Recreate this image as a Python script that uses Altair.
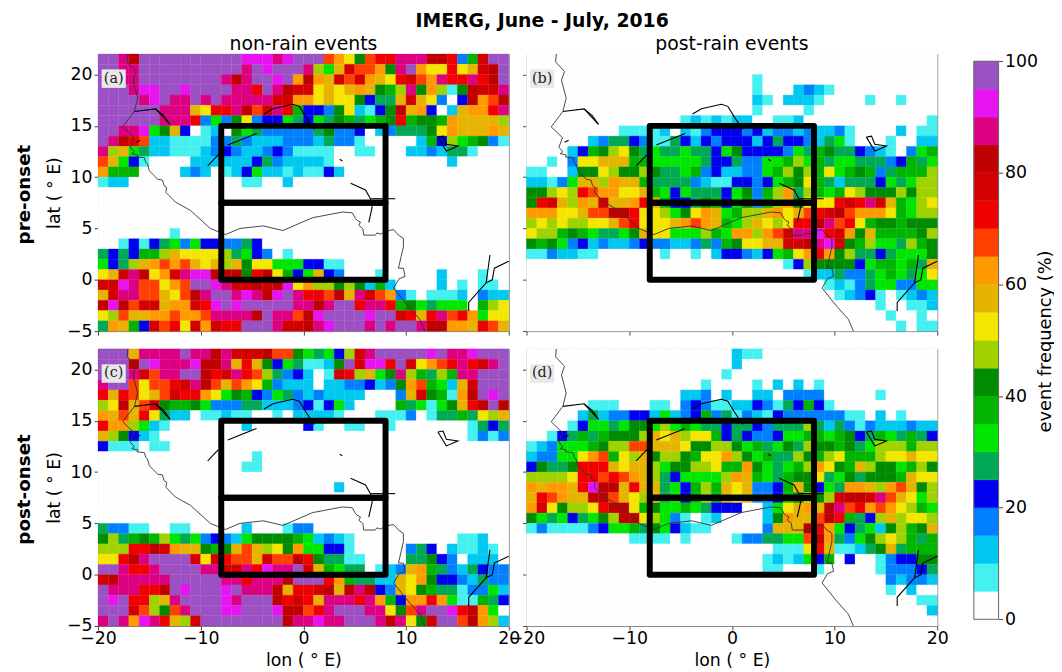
import altair as alt
import pandas as pd

FONT = "DejaVu Sans"
Z = "0" * 20
LEVEL_COLORS = ["#fefefe", "#45f0f0", "#00c8f0", "#0080ff", "#0000f0", "#00aa55", "#00e600", "#00b400",
                "#008c00", "#a0d200", "#f5e600", "#e6b400", "#ff9b00", "#ff4000", "#f00000", "#d20000",
                "#be0000", "#dc0082", "#e614f0", "#9b50c3"]
LEVEL_KEYS = "0123456789abcdefghij"
EDGES = list(range(0, 101, 5))

# rows run from lat 21..22 (first) to lat -5..-4 (last); each char is one 5 % frequency class
PANEL_A = [
    "jjhgjjjjjjjjjjiiihij" "jjdca8deehhhgge37fjj",
    "jjhhjjjjjjjjjjhjijjj" "h96bfddc8hjcaaeabfgj",
    "jjhhjjjjjjjjhghjjijc" "gcbfdfcbaefdcheehegj",
    "jjjhiijjijjjjhhejhgf" "fababcb879h8c918gffh",
    "jjjjhijhhjhjhhhhhffc" "cabaa8455bfba304gcdg",
    "jjjjjjhhhbaeehgdfhe7" "4438a2148gbc402bcceh",
    "jjjjjjhhhe3638a34465" "465875678e7887cbbbb9",
    "jjhhi68b401208653333" "3583340235558acbbbcb",
    "jhged221111335322233" "32533100000274967831",
    "h9b65221112343223431" "11100110002232551000",
    "db641000022222245322" "22100000000000200000",
    "c7770000232012462212" "11420000000000000000",
    "12200000000000110020" + Z,
    Z + Z, Z + Z, Z + Z, Z + Z,
    "00000001000000000000" + Z,
    "00141456364433540000" + Z,
    "5454779baaaa95643010" + Z,
    "6459bcdcdbab9b8aa666" "44110000000000000000",
    "abfhgacfhiiggg8ega74" "6b430001000002000100",
    "ffihddacdjjihffgfgia" "c9989827200002010110",
    "bfhhddbadghjjhihgijh" "eedgbhfdc31011120322",
    "gigdffbccfeijijjjjjh" "hghjjehhe7865666079a",
    "a9dbbccdccdhhhhgjhhd" "gijjjjijjfebehdec6aa",
    "5cb74fdeafcfeejjjhff" "ghijjjhjhjjhggccbedb",
]
PANEL_B = [
    Z + Z, Z + Z,
    Z + "00100000000000000000",
    Z + "00100023210000000000",
    Z + "00210222100001001000",
    Z + "00100001000000000000",
    "00000000000000012121" "22001120000000000001",
    "00000000011112021344" "43423323223100002011",
    "00000023554311542434" "44245443256100010022",
    "000024789a8565565546" "84444365785543210367",
    "00103aabbb7766666544" "53366796756655534756",
    "1100288a988985567342" "233679897a6787357779",
    "22136bb9cbb755553211" "4434678a752555465699",
    "889a9edccaab76465554" "68379c59767a98889899",
    "8efb9cbfbbceb7445874" "68379c8aaaefehfb769a",
    "cccaabddggeaa968acb6" "799bcabdefgdccca7699",
    "9a9a99aabdeaaabcdcb7" "69ba9aeeghdea7887888",
    "a9978765568baa666976" "cc9cdfhhiefc8b777789",
    "87863423223433223537" "8aabbffghif879665978",
    "11322110000001001024" "432467acec8955456668",
    Z + "0000014988884677675b",
    Z + "0000000122533567656a",
    Z + "00000000012135663366",
    Z + "00000000001234101232",
    Z + "00000000000000100112",
    Z + "00000000000000010010",
    Z + "00000000000000001011",
]
PANEL_C = [
    "jjjbhhhhjhhghfffgdd8" "65649fhjjjjjijhhijjj",
    "jjjgjihhhigghbeb8465" "1128jfiiejfacdehefhj",
    "jjjhfdhhjjgefhed9534" "201fe9b68h97597hhjjj",
    "hjjdaddefhgdbdca7322" "2022334238cd762bfjjj",
    "ebedabdfeeca68743653" "2322220003bf871cgjij",
    "9agbdf87786333552223" "414620000756168begjg",
    "cbdbea52201121100102" "22210001113015575a9b",
    "ecc96210000000200000" "41001100100000001545",
    "b9842100000000000000" "00000000000000001313",
    "41110110000000000000" + Z,
    "00000000000000010000" + Z,
    "00000000000000110000" + Z,
    Z + Z,
    Z + "00020000000000000000",
    Z + Z, Z + Z, Z + Z,
    "53311001100000200013" "30000000000000000000",
    "89578796563432688887" "62321000000000011200",
    "999eegfcbb878bdb9a8c" "66441000003540211210",
    "aaeghjjjjfafeddbfddg" "e8551100005584302220",
    "jjheehjjjjhhffheihhj" "fb76550123bc75325433",
    "fghhhhhjjjjjhhehhhgj" "jjec75522bac84432533",
    "jhhheegjijjjijhhhgbe" "efgbghg43ba875513362",
    "jijee9bhjjjjihjjjgef" "ebhhhehc74ccec611754",
    "jjjfd98dhjjjiijjjigg" "dehjjjhha8dhjjiegc60",
    "hjhciheb9fjjjjjjjjgh" "hihhjjjhgha8fjjdgc92",
]
PANEL_D = [
    Z + "21100000000000000000",
    Z + "20000000000000000000",
    "00000000000000000001" + Z,
    "00000000000000000100" "00102020100000000000",
    "00000000000000022302" "00220333300000100000",
    "00000011100011034311" "22431547410000000000",
    "00000252334426234735" "13214333333110201000",
    "00001466568869676554" "55435559525313222322",
    "001457578889bab9aa74" "54334667767845765754",
    "1236667899ddbbba8899" "86756859887856999799",
    "23366acd7a9b89987aac" "9867559879a7779aabaa",
    "48558eeebabb968899a7" "7c865679ca87b9886798",
    "9999aeededcb95466669" "cb765788a56858887baa",
    "cbccbeiggbebb564797b" "ab3347b8465ccb9cdb89",
    "bedcbbggdba9b564797b" "ab33478989fggfhdba69",
    "cfa899aegga786676544" "40026abcbghdecdca976",
    "865645689gga96310120" "00028cbbdge7549b9aa9",
    "13111134667586421100" "0003bbbgec645628978b",
    "00000000001111010000" "1335566dgc53689a9757",
    Z + "0000111aeb11258b5777",
    Z + "00012126470400134488",
    Z + "00011000100000133345",
    Z + "00000000000000032332",
    Z + "00000000000000010200",
    Z + "00000000000000000011",
    Z + "00000000000000000002",
    Z + Z,
]

COAST_LON = [-17.1, -17.17, -16.3, -16.6, -16.14, -16.46, -17.6, -16.5, -16.85, -16.46, -16.72, -16.14, -16.2, -15.5,
             -15.34, -15.18, -15.0, -14.53, -14.2, -13.73, -13.57, -13.31, -13.4, -12.45, -11.0, -9.07, -7.6, -6.17,
             -3.9, -2.0, 0.9, 3.8, 4.76, 5.08, 5.24, 5.56, 5.4, 5.79, 5.88, 7.0, 7.17, 7.49, 7.97, 8.46, 8.78, 9.26,
             9.74, 9.74, 9.52, 9.26, 9.74, 9.9, 9.32, 8.78, 10.2, 11.35, 11.83]
COAST_LAT = [22.0, 21.23, 20.3, 19.46, 17.7, 16.4, 14.9, 13.85, 12.9, 12.48, 12.29, 12.16, 11.97, 11.9,
             11.42, 11.26, 10.62, 10.14, 9.8, 9.72, 9.17, 9.0, 8.53, 7.56, 6.76, 5.0, 4.4, 5.0,
             5.25, 4.8, 6.05, 6.6, 6.53, 5.95, 5.79, 5.63, 5.31, 4.99, 4.35, 4.35, 4.57, 4.44, 4.67, 4.83, 4.89, 4.35,
             4.03, 3.22, 2.26, 1.13, 1.13, 0.33, 0.1, -0.8, -2.57, -3.85, -5.0]
BORDERS = [
    ([-16.46, -14.4, -13.0], [16.4, 16.65, 15.15]),
    ([-14.4, -13.6, -13.0], [16.65, 16.0, 15.15]),
    ([-16.3, -15.9], [13.4, 13.6]),
    ([-9.32, -8.3], [11.1, 12.16]),
    ([-7.36, -4.56], [13.13, 14.25]),
    ([-3.83, -2.96, -1.03, -0.39, 0.26, 1.06], [16.15, 16.66, 17.1, 16.9, 15.83, 14.64]),
    ([3.54, 3.8], [11.74, 11.58]),
    ([4.6, 6.05, 6.53, 6.7, 6.37], [9.4, 8.75, 7.9, 7.1, 5.6]),
    ([6.6, 8.94], [7.9, 7.9]),
    ([13.1, 13.6, 13.92, 15.05, 13.92, 13.1], [13.9, 14.0, 13.2, 13.03, 12.55, 13.9]),
    ([18.17, 17.8, 16.1, 16.1], [2.42, -0.3, -2.2, -3.05]),
    ([20.0, 18.6, 18.4, 17.8], [1.8, 1.13, 0.0, -0.3]),
]
BOX_LON = [-8, 8]
BOX_LAT = [[7.5, 15], [0, 7.5]]
BADGE_LON = [-19.65, -17.3]
BADGE_LAT = [18.7, 20.5]
X_TICKS = [-20, -10, 0, 10, 20]
Y_TICKS = [-5, 0, 5, 10, 15, 20]
CB_TICKS = [0, 20, 40, 60, 80, 100]

for p in (PANEL_A, PANEL_B, PANEL_C, PANEL_D):
    assert len(p) == 27 and all(len(r) == 40 for r in p), [len(r) for r in p]

XS = alt.Scale(domain=[-20, 20], nice=False, zero=False)
YS = alt.Scale(domain=[-5, 22], nice=False, zero=False)
CS = alt.Scale(type="threshold", domain=EDGES[1:-1], range=LEVEL_COLORS)


def cells(panel):
    out = []
    for r, row in enumerate(panel):
        for c, ch in enumerate(row):
            k = LEVEL_KEYS.index(ch)
            out.append(dict(lon=-20 + c, lon2=-19 + c, lat=21 - r, lat2=22 - r, v=EDGES[k] + 2.5))
    return pd.DataFrame(out)


coast = pd.DataFrame(dict(lon=COAST_LON, lat=COAST_LAT, i=range(len(COAST_LON))))
bord = pd.DataFrame([dict(lon=a, lat=b, i=i, seg=s) for s, (xs, ys) in enumerate(BORDERS)
                     for i, (a, b) in enumerate(zip(xs, ys))])
boxes = pd.DataFrame([dict(x=BOX_LON[0], x2=BOX_LON[1], y=a, y2=b) for a, b in BOX_LAT])
badge_df = pd.DataFrame(dict(x=[BADGE_LON[0]], x2=[BADGE_LON[1]], y=[BADGE_LAT[0]], y2=[BADGE_LAT[1]]))


def panel(data, tag, left, bottom, title=None, rowlabel=None, rowy=142):
    xax = alt.Axis(values=X_TICKS, labels=bottom, title="lon ( ° E)" if bottom else None, grid=False, domain=False,
                   tickSize=4, tickColor="#444", labelFontSize=17.5, titleFontSize=17.5, labelFont=FONT,
                   titleFont=FONT, titleFontWeight="normal", titlePadding=4, labelPadding=0, labelOverlap=False,
                   labelFlush=False)
    yax = alt.Axis(values=Y_TICKS, labels=left, title="lat ( ° E)" if left else None, grid=False, domain=False,
                   tickSize=4, tickColor="#444", labelFontSize=17.5, titleFontSize=17.5, labelFont=FONT,
                   titleFont=FONT, titleFontWeight="normal", titlePadding=3, labelPadding=2)
    heat = alt.Chart(cells(data)).mark_rect(strokeWidth=0.3).encode(
        x=alt.X("lon:Q", scale=XS, axis=xax), x2="lon2:Q",
        y=alt.Y("lat:Q", scale=YS, axis=yax), y2="lat2:Q",
        color=alt.Color("v:Q", scale=CS, legend=None),
        stroke=alt.Color("v:Q", scale=CS, legend=None),
    )
    line = alt.Chart(coast).mark_line(color="#333333", strokeWidth=0.9).encode(
        x=alt.X("lon:Q", scale=XS), y=alt.Y("lat:Q", scale=YS), order="i:O")
    bl = alt.Chart(bord).mark_line(color="#000000", strokeWidth=1.1).encode(
        x=alt.X("lon:Q", scale=XS), y=alt.Y("lat:Q", scale=YS), detail="seg:N", order="i:O")
    box = alt.Chart(boxes).mark_rect(filled=False, stroke="black", strokeWidth=6, strokeJoin="round").encode(
        x=alt.X("x:Q", scale=XS), x2="x2:Q", y=alt.Y("y:Q", scale=YS), y2="y2:Q")
    bg = alt.Chart(badge_df).mark_rect(fill="#e8e8e8").encode(
        x=alt.X("x:Q", scale=XS), x2="x2:Q", y=alt.Y("y:Q", scale=YS), y2="y2:Q")
    lab = alt.Chart(pd.DataFrame(dict(t=[tag]))).mark_text(font="DejaVu Serif", fontSize=14.5, color="#222222").encode(
        text="t:N", x=alt.X("lx:Q", scale=XS), y=alt.Y("ly:Q", scale=YS)
    ).transform_calculate(lx=str(sum(BADGE_LON) / 2), ly=str(sum(BADGE_LAT) / 2))
    layers = [heat, line, bl, box, bg, lab]
    if rowlabel:
        layers.append(alt.Chart(pd.DataFrame(dict(t=[rowlabel]))).mark_text(
            font=FONT, fontSize=18.5, fontWeight="bold", angle=270, color="black").encode(
            text="t:N", x=alt.value(-75), y=alt.value(rowy)))
    ch = alt.layer(*layers).properties(width=415, height=280)
    if title:
        ch = ch.properties(title=alt.TitleParams(title, fontSize=19, font=FONT, fontWeight="normal", offset=-2))
    return ch


left = alt.concat(
    panel(PANEL_A, "(a)", True, False, "non-rain events", "pre-onset"),
    panel(PANEL_B, "(b)", False, False, "post-rain events"),
    panel(PANEL_C, "(c)", True, True, None, "post-onset"),
    panel(PANEL_D, "(d)", False, True),
    columns=2, spacing=18, bounds="flush",
)

cb = pd.DataFrame(dict(a=EDGES[:-1], b=EDGES[1:], k=[e + 2.5 for e in EDGES[:-1]]))
CB_SCALE = alt.Scale(domain=[-1.2, 101.3], nice=False, zero=False)
cbar_rect = alt.Chart(cb).mark_rect(strokeWidth=0.4).encode(
    y=alt.Y("a:Q", scale=CB_SCALE,
            axis=alt.Axis(values=CB_TICKS, orient="right", title="event frequency (%)", grid=False, domain=False,
                          tickSize=4, tickColor="#444", labelFontSize=17.5, titleFontSize=18, labelFont=FONT,
                          titleFont=FONT, titleFontWeight="normal", titleAngle=270, titleX=56, titleY=290,
                          labelPadding=2, labelFlush=False)),
    y2="b:Q",
    color=alt.Color("k:Q", scale=CS, legend=None),
    stroke=alt.Color("k:Q", scale=CS, legend=None),
)
cbar_frame = alt.Chart(pd.DataFrame(dict(a=[EDGES[0]], b=[EDGES[-1]]))).mark_rect(
    filled=False, stroke="#666666", strokeWidth=1).encode(
    y=alt.Y("a:Q", scale=CB_SCALE), y2="b:Q")
cbar = alt.layer(cbar_rect, cbar_frame).properties(width=25, height=578, view=alt.ViewConfig(stroke=None))

chart = alt.hconcat(left, cbar, spacing=24).properties(
    title=alt.TitleParams("IMERG, June - July, 2016", fontSize=19, fontWeight="bold", font=FONT, anchor="middle",
                          offset=4, dx=8),
    padding=dict(left=6, top=0, right=0, bottom=0),
).configure_view(stroke="#777777")

chart.save("out.html", embed_options={"renderer": "svg", "actions": False})
